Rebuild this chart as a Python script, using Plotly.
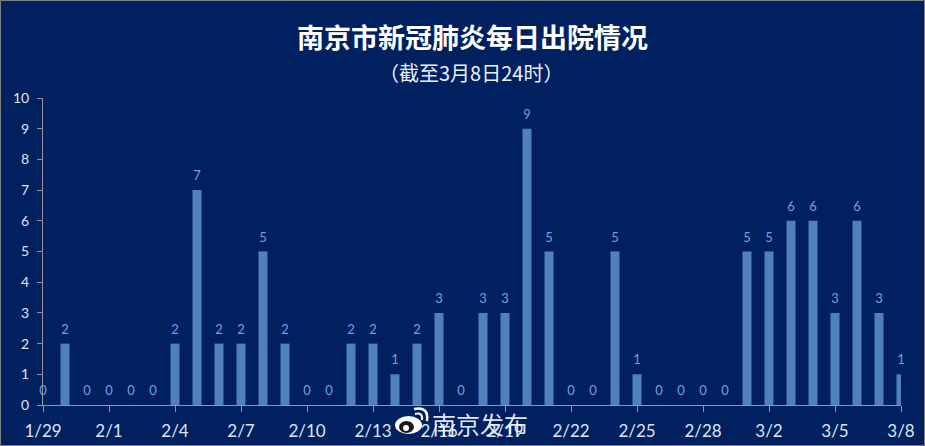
import plotly.graph_objects as go

days = [
    "1/29", "1/30", "1/31", "2/1", "2/2", "2/3", "2/4", "2/5", "2/6", "2/7",
    "2/8", "2/9", "2/10", "2/11", "2/12", "2/13", "2/14", "2/15", "2/16", "2/17",
    "2/18", "2/19", "2/20", "2/21", "2/22", "2/23", "2/24", "2/25", "2/26", "2/27",
    "2/28", "2/29", "3/1", "3/2", "3/3", "3/4", "3/5", "3/6", "3/7", "3/8",
]
discharged = [
    0, 2, 0, 0, 0, 0, 2, 7, 2, 2,
    5, 2, 0, 0, 2, 2, 1, 2, 3, 0,
    3, 3, 9, 5, 0, 0, 5, 1, 0, 0,
    0, 0, 5, 5, 6, 6, 3, 6, 3, 1,
]
tick_days = days[::3]
y_ticks = list(range(0, 11))

TITLE = "南京市新冠肺炎每日出院情况"
SUBTITLE = "（截至3月8日24时）"
WATERMARK = "南京发布"

W, H = 925, 446
ML, MR, MT, MB = 43, 24, 98, 41
BG = "#002060"
BAR = "#4F81BD"
LABEL = "#6FA3E0"
TICK = "#DCE6F2"
AXIS = "#969696"
CJK = "Noto Sans CJK SC"


# paper coordinates are relative to the plot area, so go from picture pixels to those
def px(x):
    return (x - ML) / (W - ML - MR)


def py(y):
    return (H - MB - y) / (H - MT - MB)


def ellipse(x0, y0, x1, y1, color):
    return dict(type="circle", xref="paper", yref="paper", layer="above",
                x0=px(x0), x1=px(x1), y0=py(y1), y1=py(y0),
                fillcolor=color, line=dict(width=0))


def arc(d, width):
    return dict(type="path", xref="paper", yref="paper", layer="above", path=d,
                line=dict(color="white", width=width), fillcolor="rgba(0,0,0,0)")


def arc_path(points):
    (x0, y0), (cx, cy), (x1, y1) = points
    return f"M {px(x0)} {py(y0)} Q {px(cx)} {py(cy)} {px(x1)} {py(y1)}"


fig = go.Figure()

fig.add_trace(go.Bar(
    x=days, y=discharged,
    width=0.41,
    marker=dict(color=BAR, line=dict(width=0)),
    cliponaxis=True,
    showlegend=False,
))

# labels as a separate trace, the end bars are cut by the axis but their labels are not
fig.add_trace(go.Scatter(
    x=days, y=discharged,
    mode="markers+text",
    marker=dict(size=9, opacity=0),
    text=[str(v) for v in discharged],
    textposition="top center",
    textfont=dict(family="Lato", size=13, color=LABEL),
    cliponaxis=False,
    showlegend=False,
))

shapes = [
    # picture border
    dict(type="rect", xref="paper", yref="paper", x0=px(0.5), x1=px(W - 0.5), y0=py(H - 0.5), y1=py(0.5),
         line=dict(color="#808080", width=1), fillcolor="rgba(0,0,0,0)", layer="above"),
    # weibo logo
    ellipse(395, 416, 422, 434, "white"),
    ellipse(399, 421, 414, 433, "#1a1a1a"),
    ellipse(403, 425, 409, 431, "white"),
    arc(arc_path([(415, 414), (423, 412), (422, 420)]), 2),
    arc(arc_path([(414, 409), (429, 406), (427, 421)]), 2.5),
]

annotations = [
    dict(text=f"<b>{TITLE}</b>", x=px(472), y=py(37), xref="paper", yref="paper",
         showarrow=False, xanchor="center", yanchor="middle",
         font=dict(family=CJK, size=27, color="white")),
    dict(text=SUBTITLE, x=px(471), y=py(73), xref="paper", yref="paper",
         showarrow=False, xanchor="center", yanchor="middle",
         font=dict(family=CJK, size=20, color="#EAF0F8")),
    dict(text=WATERMARK, x=px(480), y=py(423), xref="paper", yref="paper",
         showarrow=False, xanchor="center", yanchor="middle",
         font=dict(family=CJK, size=24, color="rgba(255,255,255,0.9)")),
]

fig.update_layout(
    width=W, height=H,
    paper_bgcolor=BG, plot_bgcolor=BG,
    margin=dict(l=ML, r=MR, t=MT, b=MB, pad=0, autoexpand=False),
    shapes=shapes,
    annotations=annotations,
    xaxis=dict(
        type="category",
        categoryorder="array", categoryarray=days,
        range=[0, 39],
        tickmode="array", tickvals=tick_days, ticktext=tick_days,
        ticks="outside", ticklen=6, tickcolor=AXIS, tickwidth=1,
        showline=True, linecolor=AXIS, linewidth=1,
        showgrid=False, zeroline=False,
        tickfont=dict(family="Lato", size=17, color=TICK),
        tickangle=0,
        ticklabelstandoff=5,
    ),
    yaxis=dict(
        range=[0, 10],
        tickmode="array", tickvals=y_ticks,
        ticks="outside", ticklen=5, tickcolor=AXIS, tickwidth=1,
        showline=True, linecolor=AXIS, linewidth=1,
        showgrid=False, zeroline=False,
        tickfont=dict(family="Lato", size=14, color=TICK),
        ticklabelstandoff=5,
    ),
)

fig.write_html(
    "out.html",
    config=dict(displayModeBar=False),
    post_script="document.body.style.margin='0';document.body.style.background='" + BG + "';",
)
